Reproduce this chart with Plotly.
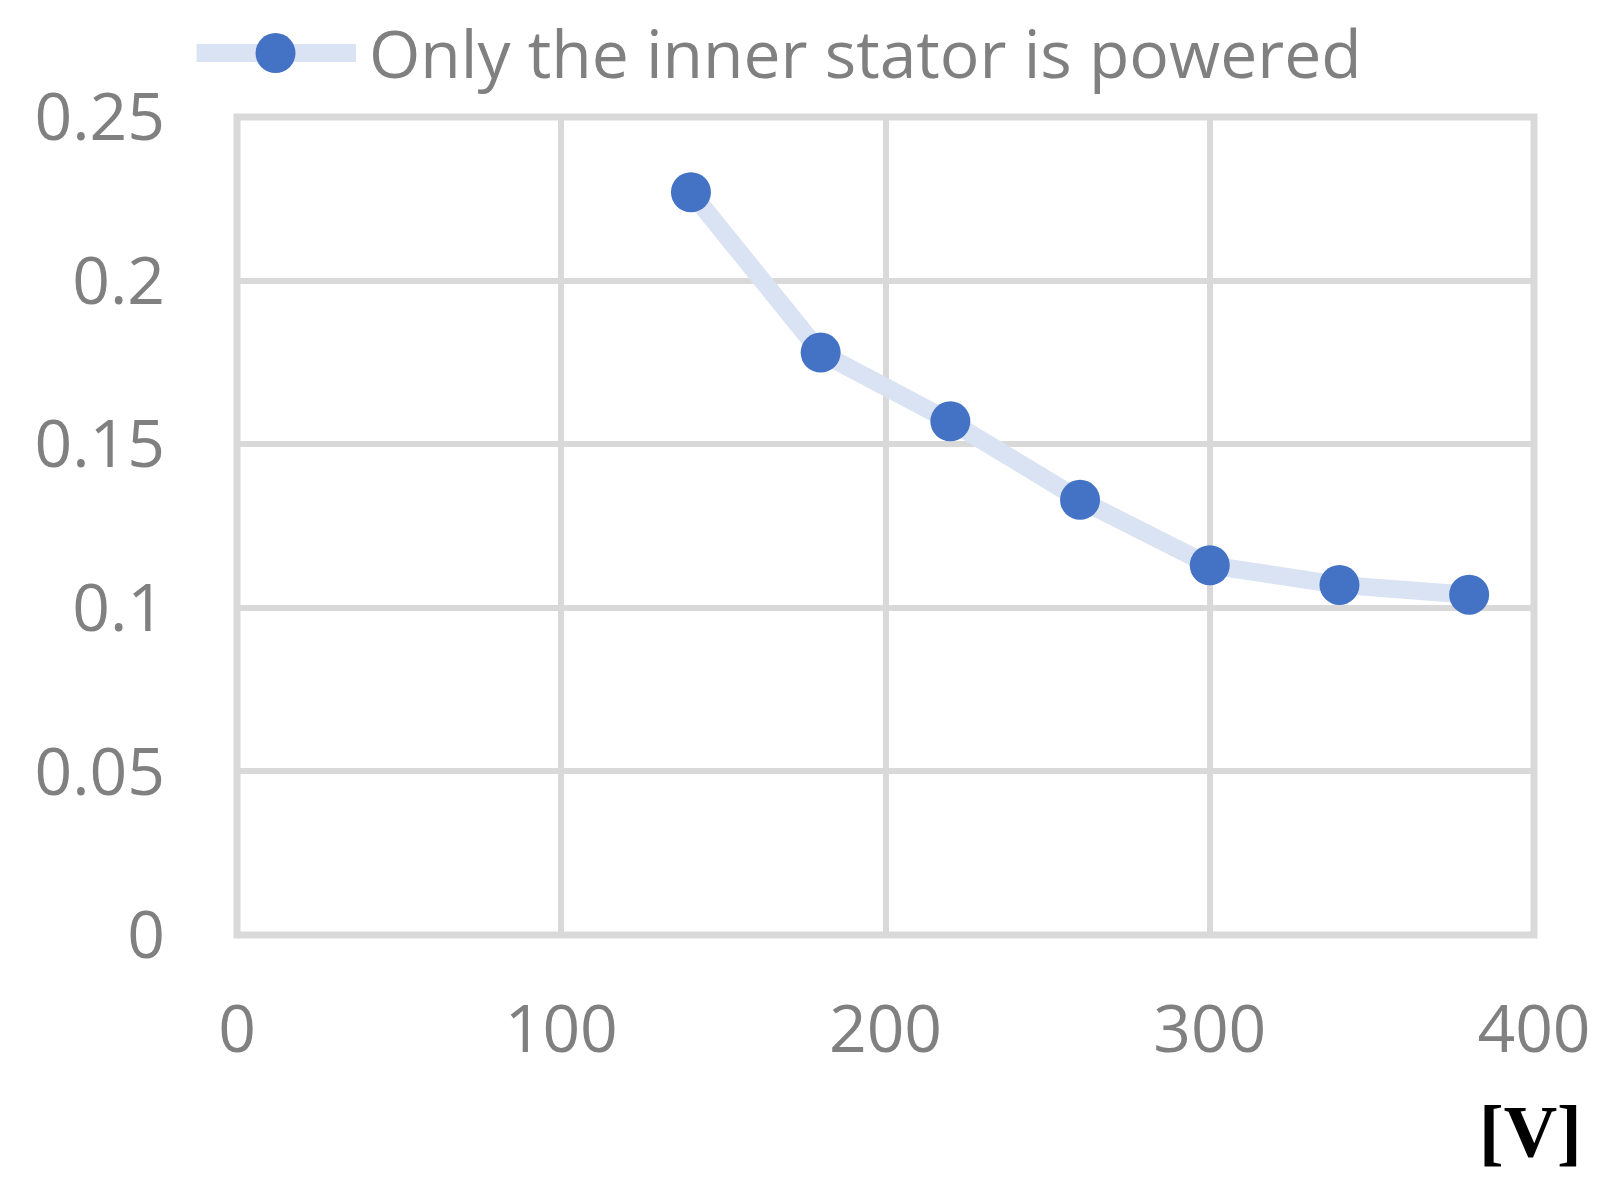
import plotly.graph_objects as go

voltage = [140, 180, 220, 260, 300, 340, 380]
values = [0.227, 0.178, 0.157, 0.133, 0.113, 0.107, 0.104]

x_ticks = [0, 100, 200, 300, 400]
y_ticks = [0, 0.05, 0.1, 0.15, 0.2, 0.25]
y_tick_text = ["0", "0.05", "0.1", "0.15", "0.2", "0.25"]

series_name = "Only the inner stator is powered"

GRID = "#d9d9d9"
TEXT = "#808080"
LINE = "#dae3f3"
MARKER = "#4472c4"
FONT = "Open Sans"

fig = go.Figure()

fig.add_trace(
    go.Scatter(
        x=voltage,
        y=values,
        mode="lines+markers",
        name=series_name,
        line=dict(color=LINE, width=18),
        marker=dict(color=MARKER, size=40, line=dict(width=0)),
        cliponaxis=False,
        showlegend=False,
    )
)

axis_common = dict(
    showgrid=True,
    gridcolor=GRID,
    gridwidth=6,
    showline=False,
    zeroline=False,
    ticks="",
    tickangle=0,
    automargin=False,
    tickfont=dict(family=FONT, size=66, color=TEXT),
)

# Excel-style frame centred on the plot edges, plus a hand-drawn legend
# (plotly caps legend marker size at 16px)
legend_y = 1.0782
shapes = [
    dict(type="rect", xref="paper", yref="paper", x0=0, x1=1, y0=0, y1=1,
         line=dict(color=GRID, width=7), layer="below"),
    dict(type="line", xref="paper", yref="paper",
         x0=-0.0312, x1=0.0918, y0=legend_y, y1=legend_y,
         line=dict(color=LINE, width=18)),
    dict(type="circle", xref="paper", yref="paper",
         xsizemode="pixel", ysizemode="pixel",
         xanchor=0.0297, yanchor=legend_y,
         x0=-20, x1=20, y0=-20, y1=20,
         fillcolor=MARKER, line=dict(width=0)),
]

fig.update_layout(
    width=1612,
    height=1192,
    margin=dict(l=228.5, r=85.5, t=108.5, b=264.7, autoexpand=False),
    paper_bgcolor="white",
    plot_bgcolor="white",
    showlegend=False,
    shapes=shapes,
    xaxis=dict(
        range=[0, 400],
        tickvals=x_ticks,
        ticktext=[str(v) for v in x_ticks],
        ticklabelstandoff=50,
        **axis_common,
    ),
    yaxis=dict(
        range=[0, 0.25],
        tickvals=y_ticks,
        ticktext=y_tick_text,
        ticklabelstandoff=71,
        **axis_common,
    ),
    annotations=[
        dict(
            text=series_name,
            xref="paper",
            yref="paper",
            x=0.1005,
            y=1.080,
            xanchor="left",
            yanchor="middle",
            showarrow=False,
            font=dict(family=FONT, size=66, color=TEXT),
        ),
        dict(
            text="<b>[V]</b>",
            xref="paper",
            yref="paper",
            x=1.0387,
            y=-0.2408,
            xanchor="right",
            yanchor="middle",
            showarrow=False,
            font=dict(family="Liberation Serif", size=74, color="black"),
        ),
    ],
)

fig.write_html("out.html")
